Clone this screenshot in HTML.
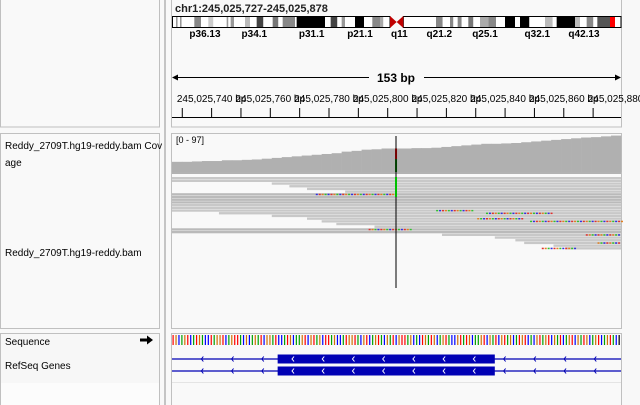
<!DOCTYPE html>
<html><head><meta charset="utf-8"><style>
html,body{margin:0;padding:0;background:#fff;width:640px;height:405px;overflow:hidden}
svg{display:block;font-family:"Liberation Sans",sans-serif}
</style></head><body>
<svg id="igv" width="640" height="405" viewBox="0 0 640 405">
<rect x="0" y="0" width="640" height="405" fill="#f8f8f8"/>
<!-- left panels -->
<rect x="0.5" y="-1" width="159" height="128" fill="#f9f9f9" stroke="#c0c0c0"/>
<rect x="0.5" y="133.5" width="159" height="195" fill="#f9f9f9" stroke="#c0c0c0"/>
<rect x="0.5" y="333.5" width="159" height="80" fill="#fcfcfc" stroke="#c0c0c0"/>
<rect x="1" y="334" width="158" height="49" fill="#f7f7f7"/>
<rect x="164" y="0" width="2" height="405" fill="#c4c4c4"/>
<!-- right panels -->
<rect x="171.5" y="-1" width="450" height="128" fill="#f9f9f9" stroke="#c0c0c0"/>
<rect x="171.5" y="133.5" width="450" height="195" fill="#f9f9f9" stroke="#c0c0c0"/>
<rect x="171.5" y="333.5" width="450" height="80" fill="#f9f9f9" stroke="#c0c0c0"/>
<line x1="172" y1="382.5" x2="621" y2="382.5" stroke="#e4e4e4"/>

<text x="5" y="149" font-size="10" fill="#000">Reddy_2709T.hg19-reddy.bam Cov</text>
<text x="5" y="166" font-size="10" fill="#000">age</text>
<text x="5" y="256" font-size="10" fill="#000">Reddy_2709T.hg19-reddy.bam</text>
<text x="5" y="345" font-size="10" fill="#000">Sequence</text>
<path d="M140 338.5h7v-3l6 4.5-6 4.5v-3h-7z" fill="#000"/>
<text x="5" y="369" font-size="10" fill="#000">RefSeq Genes</text>

<text x="175" y="12" font-size="11" font-weight="bold" fill="#222">chr1:245,025,727-245,025,878</text>
<g id="ideo"></g>
<g id="bandlabels"></g>
<line x1="174" y1="77.5" x2="369" y2="77.5" stroke="#000"/>
<line x1="424" y1="77.5" x2="618" y2="77.5" stroke="#000"/>
<path d="M172 77.5l6-3v6z" fill="#000"/>
<path d="M621 77.5l-6-3v6z" fill="#000"/>
<text x="396" y="82" font-size="12" font-weight="bold" text-anchor="middle">153 bp</text>
<g id="ruler"></g>
<line x1="172" y1="117.5" x2="621" y2="117.5" stroke="#000"/>

<g id="cov"></g>
<text x="176" y="143" font-size="9" fill="#000">[0 - 97]</text>
<line x1="172" y1="173" x2="621" y2="173" stroke="#888" stroke-width="1.2"/>
<g id="reads"></g>
<line x1="396" y1="136" x2="396" y2="288" stroke="#000" stroke-width="1"/>
<rect x="395" y="177" width="2" height="20" fill="#00c000"/>
<g id="seq"></g>
<g id="genes"></g>
</svg>
<script>
const coverage=[26,26,27,28,28,30,30,31,32,34,36,38,40,42,44,46,48,52,54,57,58,60,60,60,61,61,62,64,66,68,70,72,72,73,74,76,78,80,82,84,86,88,89,91,93];
const covMax=97;
const mismatchBp=76, mismatchRefFrac=0.55;
const reads=[[0,153,0],[0,153,1],[34,153,2],[40,153,3],[46,153,4],[59,153,5],[0,153,6],[0,153,7],[0,153,8],[0,153,9],[0,153,10],[0,153,11],[0,153,12],
[16,153,13],[34,153,14],[46,153,15],[51,153,16],[56,153,17],[69,153,18],[0,153,19],[0,153,20],[92,153,21],[110,153,22],[117,153,23],[120,153,24],[130,153,25],[134,153,26]];
const denseRows=[6,7,8,9,19,20];
const mismatchRuns=[[49,76,6],[107,130,13],[104,120,15],[122,154,16],[67,82,19],[90,103,12],[145,153,24],[141,153,21],[126,138,26]];
const tickBp=[730,740,750,760,770,780,790,800,810,820,830,840,850,860,870];
const tickLabels=["245,025,740 bp","245,025,760 bp","245,025,780 bp","245,025,800 bp","245,025,820 bp","245,025,840 bp","245,025,860 bp","245,025,880 bp"];
const labelBp=[740,760,780,800,820,840,860,880];
const bands=[[0,12,'#fff'],[12,17,'#999'],[17,24,'#fff'],[24,29,'#999'],[29,52,'#fff'],[52,67,'#fff'],[67,87,'#888'],[87,109,'#fff'],[109,124,'#ccc'],[124,164,'#fff'],[164,169,'#999'],[169,176,'#fff'],[176,186,'#999'],[186,219,'#fff'],[219,234,'#bbb'],[234,254,'#fff'],[254,274,'#444'],[274,302,'#fff'],[302,319,'#777'],[319,332,'#fff'],[332,369,'#888'],[369,374,'#fff'],[374,459,'#000'],[459,476,'#fff'],[476,496,'#444'],[496,509,'#fff'],[509,519,'#999'],[519,549,'#fff'],[549,576,'#000'],[576,601,'#fff'],[601,624,'#888'],[624,634,'#aaa'],[634,654,'#fff'],
[694,792,'#fff'],[792,812,'#888'],[812,834,'#fff'],[834,844,'#888'],[844,857,'#fff'],[857,869,'#888'],[869,889,'#fff'],[889,904,'#777'],[904,924,'#fff'],[924,949,'#aaa'],[949,972,'#888'],[972,999,'#fff'],[999,1029,'#000'],[1029,1044,'#fff'],[1044,1072,'#000'],[1072,1119,'#fff'],[1119,1142,'#bbb'],[1142,1154,'#fff'],[1154,1209,'#000'],[1209,1224,'#bbb'],[1224,1244,'#fff'],[1244,1264,'#888'],[1264,1276,'#fff'],[1276,1314,'#555'],[1314,1329,'#f00'],[1329,1344,'#fff']];
const centromere=[654,694];
const bandNames=["p36.13","p34.1","p31.1","p21.1","q11","q21.2","q25.1","q32.1","q42.13"];
const bandNamePos=[99,247,419,564,682,802,939,1096,1236];
const sequence="TGCAGTCATGACCTAGGTCAGTTACGCAGATCGGATCCATGCAAGTCGTAGCTTAGCCATGGTACGTCAGTACGATCGTTAGCACTGATGCAGTACCGTATGCAAGTCGATCGTAGCATGTCACGTAGTCGATCAGTCGATGCAGTCAGTAC";
const exonBp=[36,110];
const geneRows=[0,1];
const NS='http://www.w3.org/2000/svg';
const X0=172,X1=621,BPN=153;
function bx(b){return X0+b*(X1-X0)/BPN;}
function mk(t,a,p){const e=document.createElementNS(NS,t);for(const k in a)e.setAttribute(k,a[k]);p.appendChild(e);return e;}
// ideogram
const ideo=document.getElementById('ideo');
function ix(v){return 172+v*(448/1344);}
bands.forEach(b=>{const r=mk('rect',{x:ix(b[0]),y:16,width:ix(b[1])-ix(b[0]),height:12,fill:b[2]},ideo);

});
mk('rect',{x:172.5,y:16.5,width:ix(centromere[0])-172.5,height:11,fill:'none',stroke:'#000'},ideo);
mk('rect',{x:ix(centromere[1]),y:16.5,width:621-ix(centromere[1]),height:11,fill:'none',stroke:'#000'},ideo);
const cm=(ix(centromere[0])+ix(centromere[1]))/2;
const cen=mk('path',{d:`M${ix(centromere[0])} 16L${cm} 22L${ix(centromere[0])} 28z M${ix(centromere[1])} 16L${cm} 22L${ix(centromere[1])} 28z`,fill:'#c00000'},ideo);


const bl=document.getElementById('bandlabels');
bandNames.forEach((n,i)=>{const t=mk('text',{x:ix(bandNamePos[i]),y:37,'font-size':10,'font-weight':'bold','text-anchor':'middle'},bl);t.textContent=n;

});
// ruler
const ru=document.getElementById('ruler');
const BASE=727;
tickBp.forEach(b=>{const l=mk('line',{x1:bx(b-BASE+0.5),x2:bx(b-BASE+0.5),y1:108,y2:117,stroke:'#000'},ru);

});
labelBp.forEach((b,i)=>{const t=mk('text',{x:bx(b-BASE+0.5),y:102,'font-size':10,'text-anchor':'middle'},ru);t.textContent=tickLabels[i];

});
// coverage
const cov=document.getElementById('cov');
const cb=172,ch=38,sw=(X1-X0)/coverage.length;
coverage.forEach((v,i)=>{const h=v/covMax*ch;const r=mk('rect',{x:X0+i*sw,y:cb-h,width:sw+0.3,height:h,fill:'#b0b0b0'},cov);

});
{const v=coverage[Math.floor(mismatchBp/BPN*coverage.length)];const h=v/covMax*ch;
const r1=mk('rect',{x:bx(mismatchBp),y:cb-h,width:2,height:h*(1-mismatchRefFrac),fill:'#f00000'},cov);


const r2=mk('rect',{x:bx(mismatchBp),y:cb-h*mismatchRefFrac,width:2,height:h*mismatchRefFrac,fill:'#008000'},cov);

}
// reads
const rd=document.getElementById('reads');
const RY=177,RH=2.7;
reads.forEach(r=>{const e=mk('rect',{x:bx(r[0]),y:RY+r[2]*RH,width:bx(r[1])-bx(r[0]),height:RH-0.4,fill:denseRows.includes(r[2])?'#bababa':'#c8c8c8'},rd);

});
const mc=['#e03030','#3030e0','#30c030','#e08020'];
mismatchRuns.forEach(m=>{for(let b=m[0];b<m[1];b++){const e=mk('rect',{x:bx(b),y:RY+m[2]*RH+0.5,width:2,height:1.5,fill:mc[(b*7+m[2])%4]},rd);

}});
// sequence
const sq=document.getElementById('seq');
const sc={A:'#00a000',C:'#0000ff',G:'#d17105',T:'#ff0000'};
for(let i=0;i<BPN;i++){const e=mk('rect',{x:bx(i)+0.5,y:335,width:1.2,height:10,fill:sc[sequence[i]]},sq);

}
// genes
const gn=document.getElementById('genes');
geneRows.forEach(g=>{const y=359+g*12;
const l=mk('line',{x1:X0,x2:X1,y1:y,y2:y,stroke:'#0000b4','stroke-width':1.2},gn);


const ex=mk('rect',{x:bx(exonBp[0]),y:y-4.5,width:bx(exonBp[1])-bx(exonBp[0]),height:9,fill:'#0000b4'},gn);


for(let b=10;b<BPN;b+=10.3){const x=bx(b);const inEx=b>exonBp[0]&&b<exonBp[1];
const c=mk('path',{d:`M${x+2} ${y-2.5}L${x} ${y}L${x+2} ${y+2.5}`,fill:'none',stroke:inEx?'#fff':'#0000b4','stroke-width':1},gn);

}});
</script>
</body></html>
